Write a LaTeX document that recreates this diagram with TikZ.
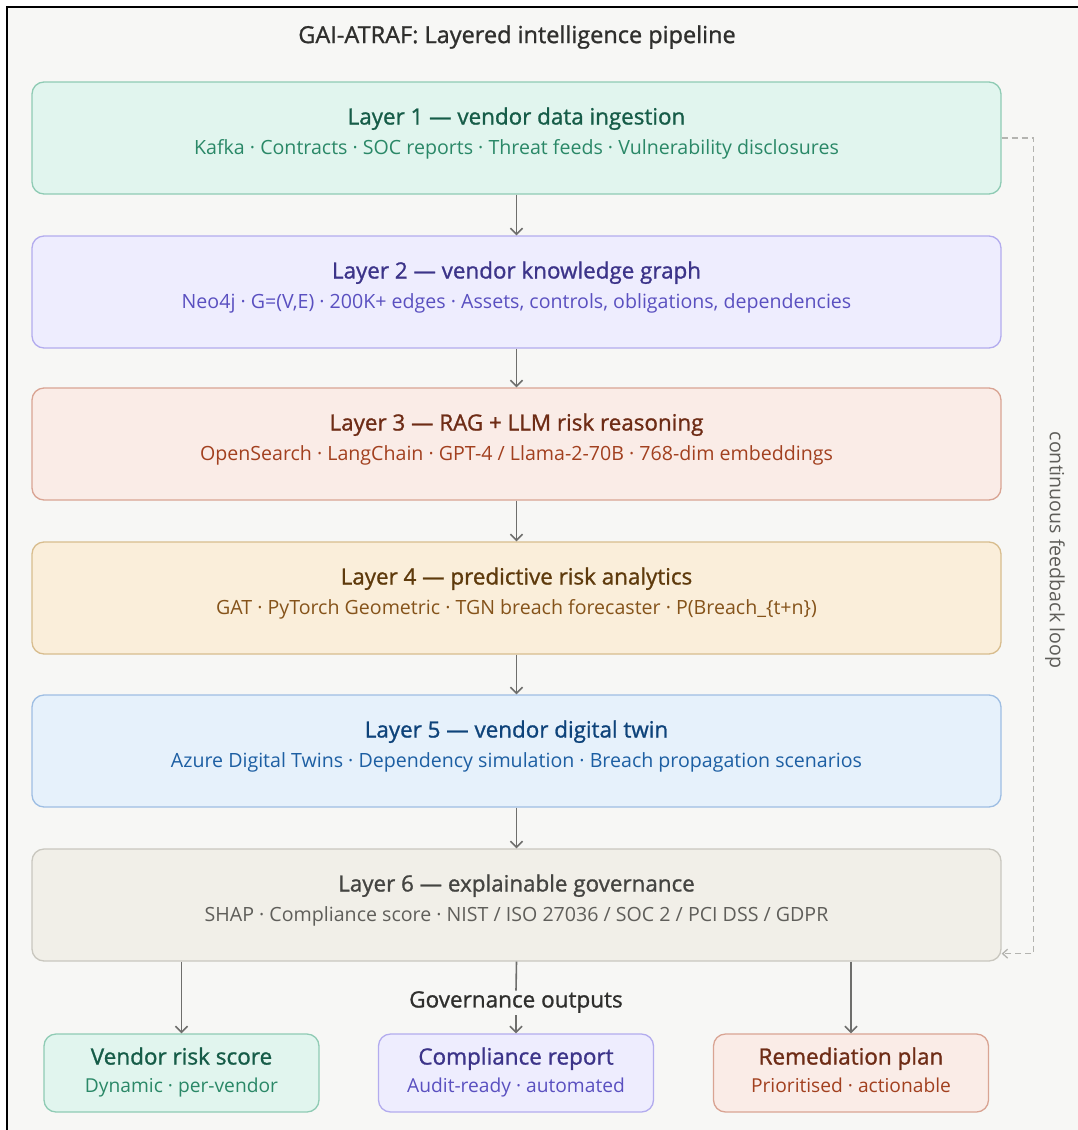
\documentclass[tikz,border=0pt]{standalone}
\usepackage{fontspec}
\setmainfont{Open Sans}
\newfontfamily\medfont[FakeBold=1.1]{Open Sans}
\usepackage{tikz}
\usetikzlibrary{calc, arrows.meta, positioning}
\definecolor{pageColor}{HTML}{F7F7F5}
\definecolor{inkColor}{HTML}{2F2F2D}
\definecolor{arrowColor}{HTML}{6E6E6C}
\definecolor{loopColor}{HTML}{B4B4B0}
\definecolor{greenFill}{HTML}{E1F5EE}
\definecolor{greenLine}{HTML}{8FCBB4}
\definecolor{greenTitle}{HTML}{165C48}
\definecolor{greenSub}{HTML}{2A8867}
\definecolor{purpleFill}{HTML}{EEEDFE}
\definecolor{purpleLine}{HTML}{B3ACEE}
\definecolor{purpleTitle}{HTML}{3C3489}
\definecolor{purpleSub}{HTML}{5A50C0}
\definecolor{coralFill}{HTML}{FAECE7}
\definecolor{coralLine}{HTML}{D9A493}
\definecolor{coralTitle}{HTML}{6E2C16}
\definecolor{coralSub}{HTML}{A2401F}
\definecolor{amberFill}{HTML}{FAEEDA}
\definecolor{amberLine}{HTML}{D8BD8E}
\definecolor{amberTitle}{HTML}{5E3A0C}
\definecolor{amberSub}{HTML}{85531A}
\definecolor{blueFill}{HTML}{E6F1FB}
\definecolor{blueLine}{HTML}{9EBEE3}
\definecolor{blueTitle}{HTML}{0E437A}
\definecolor{blueSub}{HTML}{1D5FA3}
\definecolor{grayFill}{HTML}{F1EFE8}
\definecolor{grayLine}{HTML}{C9C7BF}
\definecolor{grayTitle}{HTML}{444441}
\definecolor{graySub}{HTML}{5F5E5A}

\begin{document}
\begin{tikzpicture}[x=1pt, y=-1pt,
    layer/.style={draw, rounded corners=12pt, line width=1.3pt, minimum width=969pt,
        minimum height=112pt, align=center, inner sep=0pt, text depth=14pt,
        font=\fontsize{19.6}{30}\selectfont},
    outbox/.style={draw, rounded corners=12pt, line width=1.3pt, minimum width=275pt,
        minimum height=78pt, align=center, inner sep=0pt, text depth=6pt,
        font=\fontsize{19.2}{28}\selectfont},
    flow/.style={draw=arrowColor, line width=1.6pt, -{Straight Barb[length=6pt, width=12pt]}},
    loopline/.style={draw=loopColor, line width=1.3pt, dash pattern=on 6pt off 4pt,
        -{Straight Barb[length=5pt, width=9pt]}}]
    \useasboundingbox (0,0) rectangle (1078,1130);
    \fill[pageColor] (7,7) rectangle (1078,1130);
    \draw[line width=2pt] (7,1130) -- (7,7) -- (1078,7);

    \node[text=inkColor, font=\fontsize{23.5}{26}\medfont] (title) at (517,37)
        {GAI-ATRAF: Layered intelligence pipeline};

    \node[layer, fill=greenFill, draw=greenLine, text=greenSub] (l1) at (516.5,138)
        {{\fontsize{22.4}{30}\medfont\color{greenTitle}Layer 1 — vendor data ingestion}\\
         Kafka · Contracts · SOC reports · Threat feeds · Vulnerability disclosures};
    \node[layer, fill=purpleFill, draw=purpleLine, text=purpleSub] (l2) at (516.5,292)
        {{\fontsize{22.4}{30}\medfont\color{purpleTitle}Layer 2 — vendor knowledge graph}\\
         Neo4j · G=(V,E) · 200K+ edges · Assets, controls, obligations, dependencies};
    \node[layer, fill=coralFill, draw=coralLine, text=coralSub] (l3) at (516.5,444)
        {{\fontsize{22.4}{30}\medfont\color{coralTitle}Layer 3 — RAG + LLM risk reasoning}\\
         OpenSearch · LangChain · GPT-4 / Llama-2-70B · 768-dim embeddings};
    \node[layer, fill=amberFill, draw=amberLine, text=amberSub] (l4) at (516.5,598)
        {{\fontsize{22.4}{30}\medfont\color{amberTitle}Layer 4 — predictive risk analytics}\\
         GAT · PyTorch Geometric · TGN breach forecaster · P(Breach\_\{t+n\})};
    \node[layer, fill=blueFill, draw=blueLine, text=blueSub] (l5) at (516.5,751)
        {{\fontsize{22.4}{30}\medfont\color{blueTitle}Layer 5 — vendor digital twin}\\
         Azure Digital Twins · Dependency simulation · Breach propagation scenarios};
    \node[layer, fill=grayFill, draw=grayLine, text=graySub] (l6) at (516.5,905)
        {{\fontsize{22.4}{30}\medfont\color{grayTitle}Layer 6 — explainable governance}\\
         SHAP · Compliance score · NIST / ISO 27036 / SOC 2 / PCI DSS / GDPR};

    \foreach \a/\b in {l1/l2, l2/l3, l3/l4, l4/l5, l5/l6}
        \draw[flow] (\a) -- (\b);

    \node[text=inkColor, font=\fontsize{22.5}{24}\medfont] (govlabel) at (516,1002)
        {Governance outputs};

    \node[outbox, fill=greenFill, draw=greenLine, text=greenSub] (out1) at (181.5,1073)
        {{\fontsize{22.5}{28}\medfont\color{greenTitle}Vendor risk score}\\ Dynamic · per-vendor};
    \node[outbox, fill=purpleFill, draw=purpleLine, text=purpleSub] (out2) at (516,1073)
        {{\fontsize{22.5}{28}\medfont\color{purpleTitle}Compliance report}\\ Audit-ready · automated};
    \node[outbox, fill=coralFill, draw=coralLine, text=coralSub] (out3) at (851,1073)
        {{\fontsize{22.5}{28}\medfont\color{coralTitle}Remediation plan}\\ Prioritised · actionable};

    \draw[flow] (l6.south -| out1) -- (out1);
    \draw[flow] (l6.south -| out3) -- (out3);
    \draw[draw=arrowColor, line width=1.6pt] (l6.south) -- ([yshift=-3pt]govlabel.north);
    \draw[flow] ([yshift=1pt]govlabel.south) -- (out2);

    \coordinate (loopend) at ($(l6.south east)+(0,-8)$);
    \draw[loopline] (l1.east) -| ($(loopend)+(32,0)$) -- (loopend);
    \node[rotate=-90, text=graySub, font=\fontsize{19.6}{22}\selectfont] (fblabel) at (1055,550)
        {continuous feedback loop};
\end{tikzpicture}
\end{document}
